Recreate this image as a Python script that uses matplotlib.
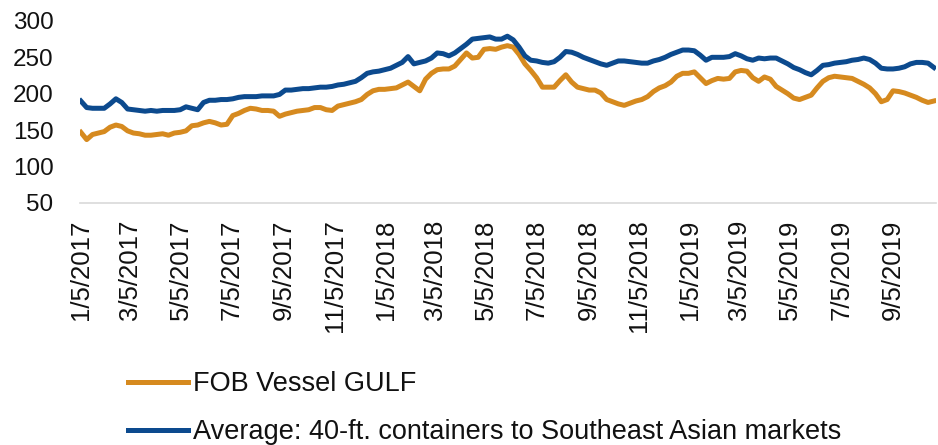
import matplotlib
matplotlib.use("Agg")
import matplotlib.pyplot as plt
import numpy as np
import pandas as pd

# weekly observations, starting 1/5/2017
start_date = "2017-01-05"

fob_gulf = [147, 137, 144, 146, 148, 154, 157, 155, 149, 146,
            145, 143, 143, 144, 145, 143, 146, 147, 149, 156,
            157, 160, 162, 160, 157, 158, 170, 173, 177, 180,
            179, 177, 177, 176, 169, 172, 174, 176, 177, 178,
            181, 181, 178, 177, 183, 185, 187, 189, 192, 199,
            204, 206, 206, 207, 208, 212, 216, 210, 204, 220,
            228, 233, 234, 234, 238, 247, 256, 249, 250, 261,
            262, 261, 264, 266, 264, 254, 241, 232, 222, 209,
            209, 209, 218, 226, 216, 209, 207, 205, 205, 201,
            192, 189, 186, 184, 187, 190, 192, 196, 203, 208,
            211, 216, 224, 228, 228, 230, 222, 214, 218, 221,
            220, 221, 230, 232, 231, 222, 217, 223, 220, 210,
            205, 200, 194, 192, 195, 198, 208, 217, 222, 224,
            223, 222, 221, 217, 213, 208, 200, 189, 192, 204,
            203, 201, 198, 195, 191, 188, 190]

containers_sea = [190, 181, 180, 180, 180, 186, 193, 188, 179, 178,
                  177, 176, 177, 176, 177, 177, 177, 178, 182, 180,
                  178, 188, 191, 191, 192, 192, 193, 195, 196, 196,
                  196, 197, 197, 197, 199, 205, 205, 206, 207, 207,
                  208, 209, 209, 210, 212, 213, 215, 217, 222, 228,
                  230, 231, 233, 235, 239, 243, 251, 241, 243, 245,
                  249, 256, 255, 252, 256, 262, 268, 275, 276, 277,
                  278, 275, 275, 279, 274, 264, 252, 246, 245, 243,
                  242, 244, 250, 258, 257, 254, 250, 247, 244, 241,
                  239, 242, 245, 245, 244, 243, 242, 242, 245, 247,
                  250, 254, 257, 260, 260, 259, 253, 246, 250, 250,
                  250, 251, 255, 252, 248, 246, 249, 248, 249, 249,
                  245, 241, 236, 233, 229, 226, 232, 239, 240, 242,
                  243, 244, 246, 247, 249, 247, 242, 235, 234, 234,
                  235, 237, 241, 243, 243, 242, 236]

labels = ["FOB Vessel GULF",
          "Average: 40-ft. containers to Southeast Asian markets"]

dates = pd.date_range(start_date, periods=len(fob_gulf), freq="7D")
# ticks every two months on the 5th
tick_dates = pd.date_range("2017-01-01", "2019-09-01", freq="2MS") + pd.Timedelta(days=4)
tick_labels = [f"{d.month}/{d.day}/{d.year}" for d in tick_dates]

plt.rcParams['font.family'] = ['Liberation Sans', 'DejaVu Sans']

fig = plt.figure(figsize=(9.38, 4.45), dpi=100, facecolor='w')
ax = fig.add_axes([0.0853, 0.544, 0.913, 0.409])

ax.plot(dates, fob_gulf, color='#D68A1F', linewidth=3.6, label=labels[0])
ax.plot(dates, containers_sea, color='#0C4A8E', linewidth=3.6, label=labels[1])

ax.set_ylim(50, 300)
ax.set_yticks([50, 100, 150, 200, 250, 300])
ax.set_xlim(dates[0] - pd.Timedelta(days=1), dates[-1] + pd.Timedelta(days=3))
ax.set_xticks(tick_dates)
ax.set_xticklabels(tick_labels, rotation=90, fontsize=18.5, color='#111111')
ax.tick_params(axis='y', labelsize=17.5, length=0, pad=19, colors='#111111')
ax.tick_params(axis='x', length=0, pad=12)

for s in ['top', 'right', 'left']:
    ax.spines[s].set_visible(False)
ax.spines['bottom'].set_color('#D9D9D9')
ax.spines['bottom'].set_linewidth(1.2)

leg = fig.legend(loc='upper left', bbox_to_anchor=(0.1365, 0.166),
                 frameon=False, fontsize=19.5, borderpad=0, borderaxespad=0,
                 handlelength=2.2, handletextpad=0.2, labelspacing=0.82)
for t in leg.get_texts():
    t.set_color('#111111')

fig.savefig("out.png", dpi=100, facecolor='w')
